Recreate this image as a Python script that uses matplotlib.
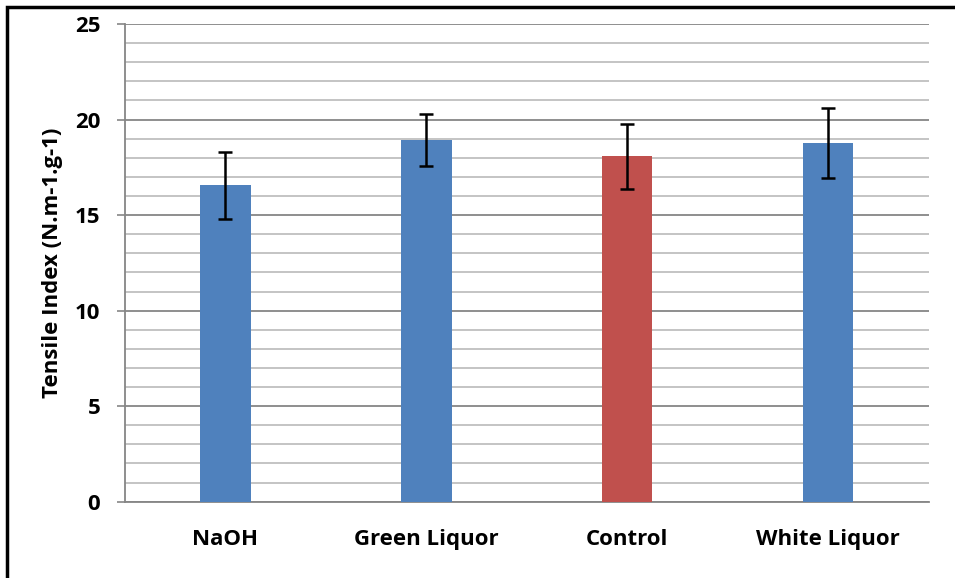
import matplotlib
matplotlib.use("Agg")
import matplotlib.pyplot as plt
from matplotlib.patches import Rectangle
from matplotlib.ticker import MultipleLocator

categories = ["NaOH", "Green Liquor", "Control", "White Liquor"]
values = [16.55, 18.93, 18.08, 18.77]
errors = [1.74, 1.34, 1.70, 1.83]
colors = ["#4F81BD", "#4F81BD", "#C0504D", "#4F81BD"]
y_ticks = [0, 5, 10, 15, 20, 25]
y_label = "Tensile Index (N.m-1.g-1)"

plt.rcParams['font.family'] = ['Open Sans', 'DejaVu Sans']

fig = plt.figure(figsize=(9.55, 5.78), dpi=100)
ax = fig.add_axes([125/955, (578-501.7)/578, (928.7-125)/955, (501.7-24)/578])

x = list(range(len(categories)))
ax.bar(x, values, width=0.25, color=colors, zorder=3)
ax.errorbar(x, values, yerr=errors, fmt='none', ecolor='black', elinewidth=1.8,
            capsize=5, capthick=1.8, zorder=4)

ax.set_xlim(-0.5, len(categories) - 0.5)
ax.set_ylim(0, 25)
ax.set_yticks(y_ticks)
ax.yaxis.set_minor_locator(MultipleLocator(1))
ax.set_yticklabels([str(t) for t in y_ticks], fontsize=16, fontweight='bold')
ax.set_xticks(x)
ax.set_xticklabels(categories, fontsize=16, fontweight='bold')
ax.tick_params(axis='x', length=0, pad=20)
ax.tick_params(axis='y', which='major', length=5.8, width=1.2, color='#868686', pad=12)
ax.tick_params(axis='y', which='minor', length=0)
ax.grid(axis='y', which='major', color='#868686', lw=1.3, zorder=0)
ax.grid(axis='y', which='minor', color='#BFBFBF', lw=1.3, zorder=0)
ax.set_axisbelow(True)

for s in ['top', 'right']:
    ax.spines[s].set_visible(False)
for s in ['left', 'bottom']:
    ax.spines[s].set_color('#868686')
    ax.spines[s].set_linewidth(1.3)

ax.set_ylabel(y_label, fontsize=16, fontweight='bold')
ax.yaxis.set_label_coords(-(125 - 63) / (928.7 - 125), 0.5)

fig.add_artist(Rectangle((7/955, -0.1), 2, (578 - 7)/578 + 0.1, fill=False,
                         lw=2.5, edgecolor='black', transform=fig.transFigure))

fig.savefig("out.png", dpi=100)
